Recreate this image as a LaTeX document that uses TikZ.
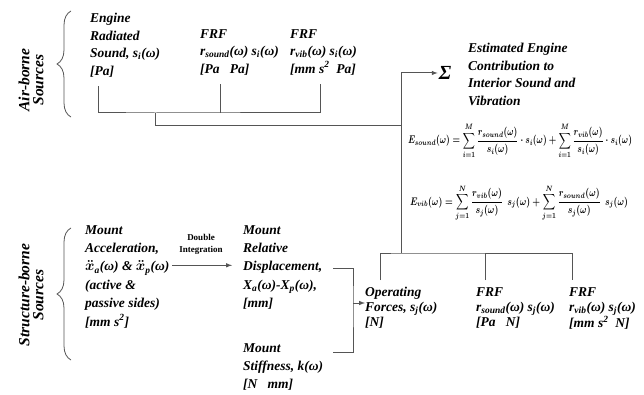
\documentclass[tikz,border=0pt]{standalone}
\usepackage{fontspec}
\setmainfont{Liberation Serif}
\usepackage{amsmath}
\usetikzlibrary{decorations.pathreplacing}
\usetikzlibrary{arrows, positioning}
\definecolor{linegray}{RGB}{85, 85, 85}
\newcommand{\lblfont}{\bfseries\itshape\fontsize{13.5}{17.5}\selectfont\boldmath}
\newcommand{\lblloose}{\bfseries\itshape\fontsize{13.5}{18.4}\selectfont\boldmath}
\newcommand{\lbltight}{\bfseries\itshape\fontsize{13.5}{15.2}\selectfont\boldmath}
\newcommand{\sbs}[1]{\textsubscript{#1}}
\newcommand{\sidetext}[2]{\rotatebox{90}{\begin{tabular}{@{}c@{}}#1\\[-3pt]#2\end{tabular}}}

\begin{document}
\begin{tikzpicture}[x=1pt, y=-1pt,
                    lbl/.style={align=left, anchor=north west, inner sep=0pt, font=\lblfont},
                    loose/.style={lbl, font=\lblloose},
                    tight/.style={lbl, font=\lbltight},
                    side/.style={inner sep=0pt, font=\bfseries\itshape\fontsize{15.5}{17}\selectfont},
                    eqn/.style={inner sep=0pt, font=\boldmath},
                    line/.style={draw=linegray, line width=1pt},
                    arrow/.style={-latex, line width=1pt, draw=linegray},
                    curly/.style={decorate, decoration={brace, amplitude=14pt}, draw=linegray, line width=0.8pt}
                ]
                \useasboundingbox (0,0) rectangle (644,395);

                % --- Air-borne Sources ---
                \node[side] (airsrc) at (33,80) {\sidetext{Air-borne}{Sources}};
                \draw[curly] (71,117) -- (71,11);

                \node[lbl] (engine) at (90,13) {Engine\\Radiated\\Sound, s\sbs{i}(ω)\\{[Pa]}};
                \node[lbl] (frfsnd) at (200,29) {FRF\\r\sbs{sound}(ω) s\sbs{i}(ω)\\{[Pa \ \ Pa]}};
                \node[lbl] (frfvib) at (290,29) {FRF\\r\sbs{vib}(ω) s\sbs{i}(ω)\\{[mm s\textsuperscript{2} \ Pa]}};

                \coordinate[below right=9pt and 8pt of engine.south west] (engdrop);
                \coordinate[below right=9pt and 20pt of frfsnd.south west] (snddrop);
                \coordinate[below right=9pt and 30pt of frfvib.south west] (vibdrop);
                \coordinate (airline) at (155,113);
                \coordinate (airjoin) at (401,126);

                \draw[line] (engdrop) |- (airline) -| (vibdrop);
                \draw[line] (snddrop) -- (snddrop |- airline);
                \draw[line] (airline) |- (airjoin);

                % --- Sum and equations ---
                \node[inner sep=1pt, font=\bfseries\itshape\fontsize{20}{20}\selectfont] (sum) at (445,73) {Σ};
                \node[lbl] (est) at (468,43) {Estimated Engine\\Contribution to\\Interior Sound and\\Vibration};
                \coordinate (spinetop) at (sum -| airjoin);
                \coordinate (strjoin) at (401,253);

                \draw[line] (strjoin) -- (spinetop);
                \draw[arrow] (spinetop) -- (sum);

                \node[eqn] (esnd) at (520,141) {\resizebox*{224pt}{35pt}{$\displaystyle E_{sound}(\omega)=\sum_{i=1}^{M}\frac{r_{sound}(\omega)}{s_i(\omega)}\cdot s_i(\omega)+\sum_{i=1}^{M}\frac{r_{vib}(\omega)}{s_i(\omega)}\cdot s_i(\omega)$}};
                \node[eqn] (evib) at (519,203) {\resizebox*{218pt}{36pt}{$\displaystyle E_{vib}(\omega)=\sum_{j=1}^{N}\frac{r_{vib}(\omega)}{s_j(\omega)}\ \ s_j(\omega)+\sum_{j=1}^{N}\frac{r_{sound}(\omega)}{s_j(\omega)}\ \ s_j(\omega)$}};

                % --- Structure-borne Sources ---
                \node[side] (strsrc) at (33,295) {\sidetext{Structure-borne}{Sources}};
                \draw[curly] (71,360) -- (71,228);

                \node[loose] (accel) at (85,225) {Mount\\Acceleration,\\$\ddot{x}$\sbs{a}(ω) \& $\ddot{x}$\sbs{p}(ω)\\(active \&\\passive sides)\\{[mm s\textsuperscript{2}]}};
                \node[align=center, inner sep=0pt, font=\bfseries\fontsize{9}{12}\selectfont] (dint) at (201,244) {Double\\Integration};
                \node[loose] (reldisp) at (243,225) {Mount\\Relative\\Displacement,\\X\sbs{a}(ω)-X\sbs{p}(ω),\\{[mm]}};
                \node[loose] (stiff) at (243,343) {Mount\\Stiffness, k(ω)\\{[N \ \ mm]}};

                \coordinate[below left=11pt and 29pt of dint.south] (dstart);
                \draw[arrow, shorten >=11pt] (dstart) -- (dstart -| reldisp.west);

                \coordinate (reltick) at (333,268);
                \coordinate (stftick) at (333,352);
                \coordinate (brk) at (353,303);
                \draw[line] (reltick) -| (brk) |- (stftick);

                % --- Operating forces and FRFs ---
                \node[tight] (oper) at (365,287) {Operating\\Forces, s\sbs{j}(ω)\\{[N]}};
                \node[tight] (frfsnd2) at (476,287) {FRF\\r\sbs{sound}(ω) s\sbs{j}(ω)\\{[Pa \ \ N]}};
                \node[tight] (frfvib2) at (569,287) {FRF\\r\sbs{vib}(ω) s\sbs{j}(ω)\\{[mm s\textsuperscript{2} \ N]}};

                \draw[arrow] (brk) -- (brk -| oper.west);

                \coordinate[above right=7pt and 15pt of oper.north west] (opdrop);
                \coordinate[above right=7pt and 9pt of frfsnd2.north west] (snddrop2);
                \coordinate[above right=7pt and 3pt of frfvib2.north west] (vibdrop2);

                \draw[line] (opdrop) |- (strjoin) -| (vibdrop2);
                \draw[line] (snddrop2) -- (snddrop2 |- strjoin);

\end{tikzpicture}
\end{document}
